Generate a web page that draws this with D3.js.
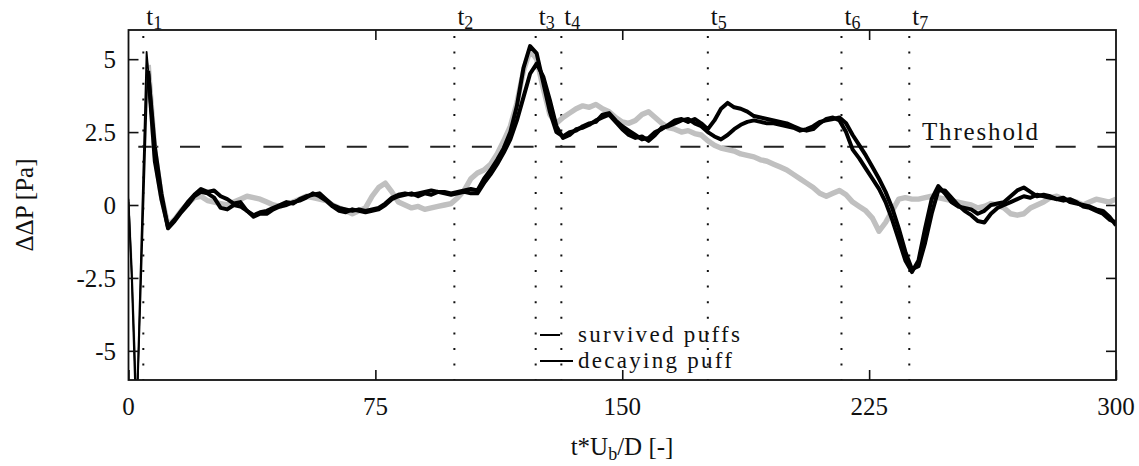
<!DOCTYPE html>
<html>
<head>
<meta charset="utf-8">
<script src="https://cdn.jsdelivr.net/npm/d3@7/dist/d3.min.js"></script>
<style>
  html, body { margin: 0; padding: 0; background: #fff; }
  svg { display: block; }
  text { font-family: "Liberation Serif", "DejaVu Serif", serif; fill: #111; }
</style>
</head>
<body>
<svg id="chart" width="1139" height="466"></svg>
<script>
// Pressure-difference traces ΔΔP [Pa] versus t*Ub/D.
// Each trace: a short onset segment of [t, value] pairs, then samples every 2 units from t = 6 to 300.
const sampleStart = 6;
const sampleStep = 2;

const survivedAOnset = [[0, 0.2], [1, -2.6], [2.4, -7.6], [5.5, 5.25]];
const survivedA = [
  4.6, 1.5, 0.2, -0.75, -0.5, -0.2, 0.1, 0.35, 0.55, 0.45,
  0.5, 0.3, 0.2, 0.05, 0.1, -0.2, -0.35, -0.25, -0.2, -0.1,
  0.0, 0.1, 0.05, 0.2, 0.3, 0.35, 0.4, 0.2, 0.0, -0.1,
  -0.15, -0.2, -0.15, -0.2, -0.15, -0.1, 0.05, 0.25, 0.35, 0.4,
  0.35, 0.4, 0.45, 0.5, 0.45, 0.45, 0.4, 0.45, 0.5, 0.55,
  0.5, 0.9, 1.2, 1.55, 1.95, 2.5, 3.4, 4.7, 5.45, 5.2,
  4.2, 3.2, 2.5, 2.35, 2.5, 2.55, 2.7, 2.8, 2.85, 3.1,
  3.15, 2.9, 2.7, 2.55, 2.4, 2.25, 2.3, 2.5, 2.6, 2.75,
  2.9, 2.95, 2.85, 2.95, 2.8, 2.6, 2.9, 3.3, 3.5, 3.35,
  3.3, 3.2, 3.05, 3.0, 2.95, 2.9, 2.85, 2.8, 2.7, 2.6,
  2.55, 2.6, 2.8, 2.95, 3.0, 2.9, 2.5, 1.9, 1.6, 1.25,
  0.9, 0.55, 0.1, -0.5, -1.2, -1.9, -2.3, -1.9, -0.8, 0.2,
  0.65, 0.4, 0.1, -0.05, -0.1, -0.15, -0.3, -0.2, 0.0, 0.05,
  0.1, 0.3, 0.5, 0.6, 0.45, 0.3, 0.35, 0.3, 0.2, 0.25,
  0.1, 0.05, 0.0, -0.05, -0.15, -0.2, -0.4, -0.7
];

const survivedBOnset = [[0, 0.1], [1, -2.3], [2.5, -7.2], [5.8, 4.6]];
const survivedB = [
  4.5, 2.0, 0.4, -0.8, -0.55, -0.25, 0.0, 0.3, 0.45, 0.4,
  0.25, -0.1, -0.15, 0.0, -0.05, -0.2, -0.4, -0.3, -0.3, -0.15,
  -0.05, 0.0, 0.1, 0.15, 0.25, 0.4, 0.3, 0.15, -0.05, -0.2,
  -0.25, -0.15, -0.2, -0.25, -0.2, -0.15, 0.0, 0.2, 0.3, 0.35,
  0.4, 0.3, 0.4, 0.35, 0.45, 0.4, 0.35, 0.4, 0.45, 0.4,
  0.4, 0.75, 1.05, 1.4, 1.8, 2.25, 2.9, 3.7, 4.5, 4.85,
  4.4, 3.6, 2.7, 2.3, 2.4, 2.6, 2.65, 2.75, 2.9, 3.0,
  3.1, 2.85, 2.6, 2.4, 2.3, 2.35, 2.2, 2.4, 2.65, 2.7,
  2.8, 2.9, 2.95, 2.8, 2.7, 2.5, 2.35, 2.25, 2.4, 2.6,
  2.75, 2.85, 2.9, 2.85, 2.8, 2.8, 2.75, 2.7, 2.65, 2.55,
  2.6, 2.7, 2.85, 2.9, 2.95, 3.0, 2.8, 2.4, 2.05, 1.7,
  1.3, 0.9, 0.45, -0.1, -0.8, -1.6, -2.2, -2.1, -1.3, -0.3,
  0.5, 0.5, 0.25, 0.0, -0.2, -0.35, -0.55, -0.6, -0.3, -0.1,
  0.0, 0.1, 0.2, 0.3, 0.25, 0.35, 0.3, 0.25, 0.2, 0.15,
  0.2, 0.1, -0.05, -0.1, -0.2, -0.3, -0.5, -0.6
];

const decayingOnset = [[0, 0.25], [1, -2.0], [2.5, -6.8], [5.6, 4.9]];
const decaying = [
  4.8, 1.8, 0.3, -0.7, -0.5, -0.2, 0.05, 0.25, 0.3, 0.15,
  0.1, 0.05, 0.0, 0.1, 0.2, 0.3, 0.25, 0.2, 0.1, 0.0,
  -0.05, 0.05, 0.1, 0.2, 0.3, 0.25, 0.2, 0.15, 0.0, -0.1,
  -0.2, -0.3, -0.2, -0.1, 0.3, 0.6, 0.75, 0.45, 0.1, 0.0,
  -0.1, -0.05, -0.15, -0.1, -0.05, 0.0, 0.05, 0.25, 0.5, 0.9,
  1.1, 1.2, 1.4, 1.75, 2.2, 2.7, 3.5, 4.6, 5.3, 5.0,
  4.0, 3.1, 2.8, 3.0, 3.15, 3.3, 3.4, 3.35, 3.45, 3.3,
  3.2, 3.0, 2.85, 2.8, 2.9, 3.1, 3.2, 3.0, 2.8, 2.65,
  2.6, 2.5, 2.55, 2.45, 2.4, 2.2, 2.05, 1.95, 1.9, 1.85,
  1.75, 1.7, 1.65, 1.55, 1.5, 1.4, 1.3, 1.2, 1.05, 0.9,
  0.75, 0.6, 0.4, 0.3, 0.4, 0.5, 0.35, 0.1, -0.05, -0.2,
  -0.45, -0.9, -0.6, -0.2, 0.2, 0.25, 0.2, 0.2, 0.25, 0.3,
  0.25, 0.2, 0.15, 0.1, 0.05, 0.0, -0.1, -0.05, 0.05, 0.0,
  -0.1, -0.3, -0.35, -0.3, -0.1, 0.0, 0.1, 0.25, 0.3, 0.2,
  0.15, 0.1, 0.0, 0.1, 0.2, 0.15, 0.1, 0.2
];

// Event instants marked with dotted verticals
const eventTimes = [4.5, 99, 123.7, 131.5, 176, 216.6, 237.2];
const eventLabels = ["1", "2", "3", "4", "5", "6", "7"];

const threshold = 2;
const xTicks = [0, 75, 150, 225, 300];
const yTicks = [-5, -2.5, 0, 2.5, 5];
const yTickLabels = ["-5", "-2.5", "0", "2.5", "5"];
const legendLabels = ["survived puffs", "decaying puff"];

// ---- layout ----
const plotLeft = 128.5, plotRight = 1116, plotTop = 30, plotBottom = 380;
const svg = d3.select("#chart");

const x = d3.scaleLinear().domain([0, 300]).range([plotLeft, plotRight]);
const y = d3.scaleLinear().domain([-6, 6]).range([plotBottom, plotTop]);

function sampled(values) {
  return values.map((v, i) => [sampleStart + i * sampleStep, v]);
}

const defs = svg.append("defs");
defs.append("clipPath").attr("id", "plotClip")
  .append("rect").attr("x", plotLeft).attr("y", plotTop)
  .attr("width", plotRight - plotLeft).attr("height", plotBottom - plotTop);

const line = d3.line().x(d => x(d[0])).y(d => y(d[1]));

const plot = svg.append("g").attr("clip-path", "url(#plotClip)");

// event markers (dotted)
plot.selectAll("line.event").data(eventTimes).join("line")
  .attr("class", "event")
  .attr("x1", d => x(d)).attr("x2", d => x(d))
  .attr("y1", plotTop).attr("y2", plotBottom)
  .attr("stroke", "#111").attr("stroke-width", 2)
  .attr("stroke-dasharray", "2 13.6").attr("stroke-dashoffset", -6);

// threshold
plot.append("line")
  .attr("x1", plotLeft).attr("x2", plotRight)
  .attr("y1", y(threshold)).attr("y2", y(threshold))
  .attr("stroke", "#222").attr("stroke-width", 2)
  .attr("stroke-dasharray", "20 21.7").attr("stroke-dashoffset", 31.9);

// traces: sparse onset drawn thin, densely-sampled noisy part drawn as a thick band
const traceStyles = [
  { onset: decayingOnset, values: decaying, color: "#c0c0c0", w: 5.4 },
  { onset: survivedBOnset, values: survivedB, color: "#000", w: 4 },
  { onset: survivedAOnset, values: survivedA, color: "#000", w: 4 }
];
traceStyles.forEach(s => {
  const pts = sampled(s.values);
  plot.append("path").datum(s.onset.concat([pts[0]]))
    .attr("d", line).attr("fill", "none")
    .attr("stroke", s.color).attr("stroke-width", 1.8).attr("stroke-linejoin", "round");
  plot.append("path").datum(pts)
    .attr("d", line).attr("fill", "none")
    .attr("stroke", s.color).attr("stroke-width", s.w).attr("stroke-linejoin", "round");
});

// ---- axes: inward ticks on all four sides ----
const tickLen = 10;
const axes = svg.append("g");
axes.append("g").attr("transform", `translate(0,${plotBottom})`)
  .call(d3.axisBottom(x).tickValues(xTicks).tickSize(-tickLen).tickFormat(""))
  .call(g => g.select(".domain").remove());
axes.append("g").attr("transform", `translate(0,${plotTop})`)
  .call(d3.axisTop(x).tickValues(xTicks.slice(1, -1)).tickSize(-tickLen).tickFormat(""))
  .call(g => g.select(".domain").remove());
axes.append("g").attr("transform", `translate(${plotLeft},0)`)
  .call(d3.axisLeft(y).tickValues(yTicks).tickSize(-tickLen).tickFormat(""))
  .call(g => g.select(".domain").remove());
axes.append("g").attr("transform", `translate(${plotRight},0)`)
  .call(d3.axisRight(y).tickValues(yTicks).tickSize(-tickLen).tickFormat(""))
  .call(g => g.select(".domain").remove());
axes.selectAll(".tick line").attr("stroke", "#111").attr("stroke-width", 1.6);

svg.append("rect")
  .attr("x", plotLeft).attr("y", plotTop)
  .attr("width", plotRight - plotLeft).attr("height", plotBottom - plotTop)
  .attr("fill", "none").attr("stroke", "#111").attr("stroke-width", 1.8);

// tick labels
svg.append("g").selectAll("text").data(xTicks).join("text")
  .attr("x", d => x(d)).attr("y", 415)
  .attr("text-anchor", "middle").attr("font-size", 25)
  .text(d => d);
svg.append("g").selectAll("text").data(yTicks).join("text")
  .attr("x", 116).attr("y", d => y(d) + 9)
  .attr("text-anchor", "end").attr("font-size", 25)
  .text((d, i) => yTickLabels[i]);

// event labels t1..t7
const evLab = svg.append("g").selectAll("text").data(eventTimes).join("text")
  .attr("x", d => x(d) + 3).attr("y", 25).attr("font-size", 25);
evLab.append("tspan").text("t");
evLab.append("tspan").attr("dy", 4).attr("font-size", 18).text((d, i) => eventLabels[i]);

// threshold label
svg.append("text").attr("x", 922).attr("y", 140).attr("font-size", 25)
  .attr("textLength", 116).attr("lengthAdjust", "spacing").text("Threshold");

// legend
const legend = svg.append("g");
legend.append("line").attr("x1", 540).attr("x2", 560).attr("y1", 335).attr("y2", 335)
  .attr("stroke", "#000").attr("stroke-width", 2);
legend.append("line").attr("x1", 540).attr("x2", 573).attr("y1", 361).attr("y2", 361)
  .attr("stroke", "#000").attr("stroke-width", 2);
legend.append("text").attr("x", 578).attr("y", 342).attr("font-size", 23)
  .attr("textLength", 162).attr("lengthAdjust", "spacing").text(legendLabels[0]);
legend.append("text").attr("x", 578).attr("y", 368).attr("font-size", 23)
  .attr("textLength", 154).attr("lengthAdjust", "spacing").text(legendLabels[1]);

// axis titles
const xt = svg.append("text").attr("x", 622).attr("y", 455)
  .attr("text-anchor", "middle").attr("font-size", 25);
xt.append("tspan").text("t*U");
xt.append("tspan").attr("dy", 5).attr("font-size", 18).text("b");
xt.append("tspan").attr("dy", -5).text("/D [-]");

svg.append("text")
  .attr("transform", `translate(33,205) rotate(-90)`)
  .attr("text-anchor", "middle").attr("font-size", 25)
  .text("ΔΔP [Pa]");
</script>
</body>
</html>
